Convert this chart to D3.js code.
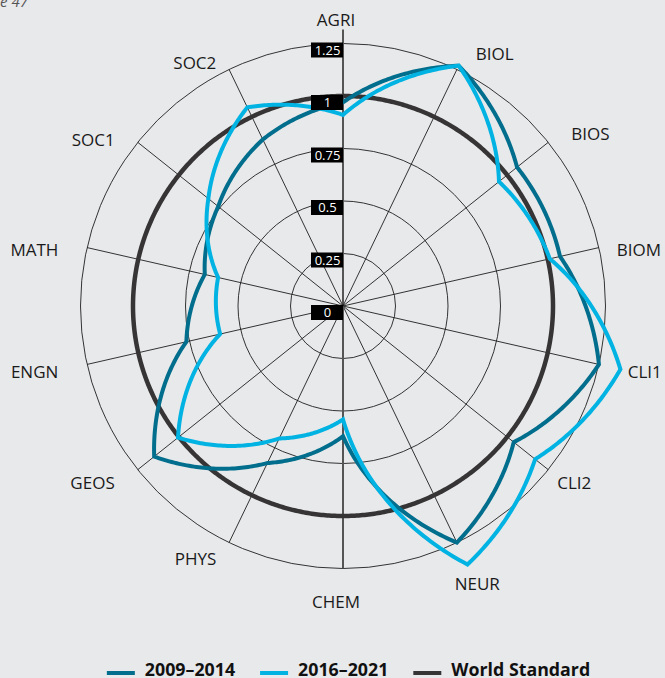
<!DOCTYPE html>
<html>
<head>
<meta charset="utf-8">
<script src="https://cdn.jsdelivr.net/npm/d3@7"></script>
<style>
  html, body { margin: 0; padding: 0; background: #e8e9eb; }
  svg { display: block; }
  text { font-family: "Open Sans", "Noto Sans", sans-serif; }
</style>
</head>
<body>
<svg id="chart" width="665" height="678"></svg>
<script>
// Subject categories around the radar
const categories = ["AGRI", "BIOL", "BIOS", "BIOM", "CLI1", "CLI2", "NEUR",
                    "CHEM", "PHYS", "GEOS", "ENGN", "MATH", "SOC1", "SOC2"];
// Relative impact per category
const series2009 = [0.97, 1.27, 1.06, 1.06, 1.25, 1.04, 1.25, 0.62, 0.83, 1.15, 0.765, 0.675, 0.76, 0.88];
const series2016 = [0.91, 1.27, 0.95, 1.01, 1.355, 1.17, 1.366, 0.54, 0.70, 1.005, 0.60, 0.61, 0.82, 1.05];
const worldStandard = [1, 1, 1, 1, 1, 1, 1, 1, 1, 1, 1, 1, 1, 1];
// Radial axis ticks
const tickValues = [0, 0.25, 0.5, 0.75, 1, 1.25];
const tickLabels = ["0", "0.25", "0.5", "0.75", "1", "1.25"];
// Legend entries
const legendLabels = ["2009–2014", "2016–2021", "World Standard"];
const legendKeys = ["s2009", "s2016", "world"];

const colors = { s2009: "#006e8c", s2016: "#00b3e3", world: "#363435" };

// Hand adjustments for a few crowded category labels (dx, dy in px)
const labelNudge = { BIOL: [6, -9], BIOS: [0, -6], BIOM: [-11, 0], CLI2: [-14, 0], NEUR: [-15, 25] };

const svg = d3.select("#chart");
const cx = 343, cy = 306;
const maxR = 262.5;

const n = categories.length;
const angle = d3.scaleLinear().domain([0, n]).range([0, 2 * Math.PI]);
const r = d3.scaleLinear().domain([0, 1.25]).range([0, maxR]);

// Figure caption, partly outside the page
svg.append("text")
  .attr("x", 28).attr("y", 7)
  .attr("text-anchor", "end")
  .attr("font-size", 15)
  .attr("font-style", "italic")
  .attr("fill", "#555")
  .text("Figure 47");

const g = svg.append("g").attr("transform", `translate(${cx},${cy})`);

// Concentric grid circles
g.append("g").selectAll("circle")
  .data(tickValues.filter(v => v > 0))
  .join("circle")
  .attr("r", d => r(d))
  .attr("fill", "none")
  .attr("stroke", "#1e1e1e")
  .attr("stroke-width", 0.9);

// Spokes (the vertical one doubles as the value axis)
g.append("g").selectAll("line")
  .data(categories)
  .join("line")
  .attr("x1", 0).attr("y1", 0)
  .attr("x2", (d, i) => (i === 0 ? maxR + 14 : maxR) * Math.sin(angle(i)))
  .attr("y2", (d, i) => -(i === 0 ? maxR + 14 : maxR) * Math.cos(angle(i)))
  .attr("stroke", (d, i) => (i === 0 || i === n / 2) ? "#555" : "#1e1e1e")
  .attr("stroke-width", (d, i) => (i === 0 || i === n / 2) ? 2 : 0.9);

// Linear-in-polar closed curve: radius changes linearly with angle between vertices
function curvePolarClosed(context) {
  let pts;
  return {
    areaStart() {}, areaEnd() {},
    lineStart() { pts = []; },
    point(x, y) { pts.push([Math.atan2(x, -y), Math.hypot(x, y)]); },
    lineEnd() {
      const m = pts.length;
      if (!m) return;
      const steps = 48;
      for (let i = 0; i < m; i++) {
        const [a0, r0] = pts[i];
        const [a1, r1] = pts[(i + 1) % m];
        let da = a1 - a0;
        while (da > Math.PI) da -= 2 * Math.PI;
        while (da <= -Math.PI) da += 2 * Math.PI;
        for (let k = (i === 0 ? 0 : 1); k <= steps; k++) {
          const t = k / steps;
          const a = a0 + da * t, rr = r0 + (r1 - r0) * t;
          const x = rr * Math.sin(a), y = -rr * Math.cos(a);
          if (i === 0 && k === 0) context.moveTo(x, y); else context.lineTo(x, y);
        }
      }
      context.closePath();
    }
  };
}

const radial = d3.lineRadial()
  .angle((d, i) => angle(i))
  .radius(d => r(d))
  .curve(curvePolarClosed);

const seriesList = [
  { key: "world", values: worldStandard, width: 4.5 },
  { key: "s2009", values: series2009, width: 4 },
  { key: "s2016", values: series2016, width: 4 }
];

g.append("g").selectAll("path")
  .data(seriesList)
  .join("path")
  .attr("d", d => radial(d.values))
  .attr("fill", "none")
  .attr("stroke", d => colors[d.key])
  .attr("stroke-width", d => d.width)
  .attr("stroke-linejoin", "miter");

// Radial tick labels on black boxes
const tickG = g.append("g").selectAll("g")
  .data(tickValues)
  .join("g")
  .attr("transform", d => `translate(0,${-r(d) - 1})`);
tickG.append("rect")
  .attr("x", -32).attr("y", 0)
  .attr("width", 32).attr("height", 15)
  .attr("fill", "#000");
tickG.append("text")
  .attr("x", -15.5).attr("y", 12)
  .attr("text-anchor", "middle")
  .attr("font-size", 13)
  .attr("fill", "#fff")
  .text((d, i) => tickLabels[i]);

// Category labels around the outside
g.append("g").selectAll("text")
  .data(categories)
  .join("text")
  .attr("font-size", 17)
  .attr("fill", "#1a1a1a")
  .attr("dy", "0.36em")
  .text(d => d)
  .each(function (d, i) {
    const a = angle(i);
    const s = Math.sin(a), c = Math.cos(a);
    const [nx, ny] = labelNudge[d] || [0, 0];
    let x, y, anchor;
    if (Math.abs(s) < 0.1) {
      anchor = "middle";
      x = -7;
      y = -291 * c + 5;
    } else {
      anchor = s > 0 ? "start" : "end";
      x = 292 * s;
      y = -275 * c + 5;
    }
    d3.select(this)
      .attr("text-anchor", anchor)
      .attr("x", x + nx)
      .attr("y", y + ny);
  });

// Legend
const legend = svg.append("g");
let lx = 0;
legendKeys.forEach((k, i) => {
  const item = legend.append("g").attr("transform", `translate(${lx},0)`);
  item.append("line")
    .attr("x1", 0).attr("x2", 28)
    .attr("y1", 673).attr("y2", 673)
    .attr("stroke", colors[k])
    .attr("stroke-width", 4);
  const t = item.append("text")
    .attr("x", 38).attr("y", 676)
    .attr("font-size", 17.8)
    .attr("font-weight", 700)
    .attr("fill", "#111")
    .text(legendLabels[i]);
  lx += 38 + t.node().getComputedTextLength() + 25;
});
const legendW = lx - 25;
legend.attr("transform", `translate(${348.5 - legendW / 2},0)`);
</script>
</body>
</html>
